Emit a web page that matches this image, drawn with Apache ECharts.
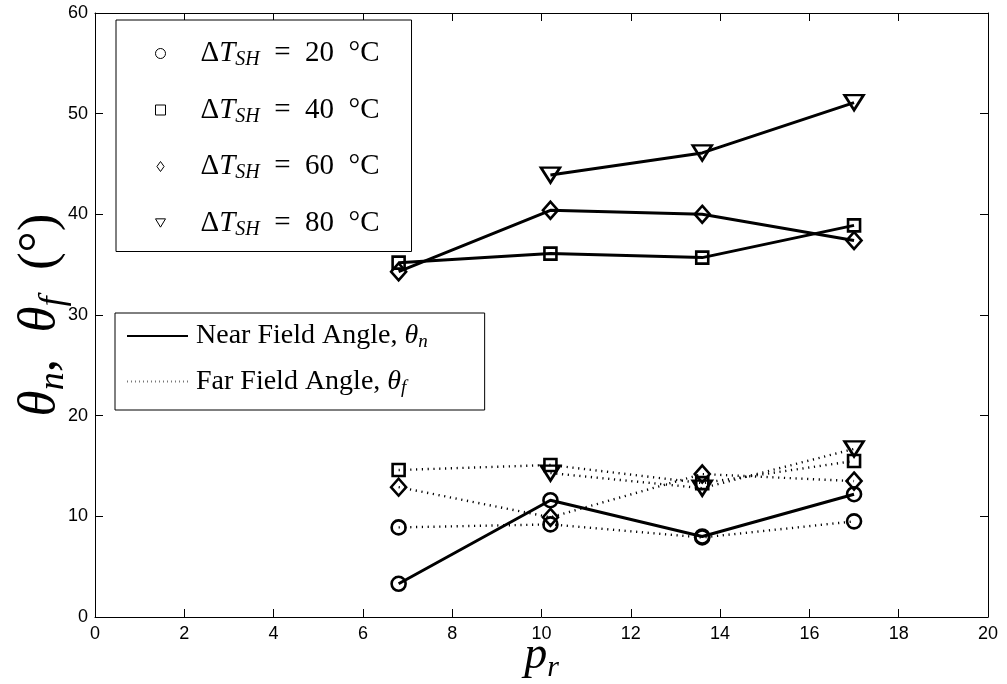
<!DOCTYPE html>
<html>
<head>
<meta charset="utf-8">
<script src="https://cdn.jsdelivr.net/npm/echarts@6/dist/echarts.min.js"></script>
<style>html,body{margin:0;padding:0;background:#fff;}#c{width:1007px;height:684px;}</style>
</head>
<body>
<div id="c"></div>
<script>
// p_r positions
var pr = [6.8, 10.2, 13.6, 17.0];
// superheat levels (°C)
var superheat = ['20', '40', '60', '80'];
// Near field angle theta_n (deg)
var near20 = [3.3, 11.6, 8.0, 12.2];
var near40 = [35.2, 36.1, 35.7, 38.9];
var near60 = [34.3, 40.4, 40.0, 37.4];
var near80 = [null, 43.9, 46.1, 51.1];
// Far field angle theta_f (deg)
var far20 = [8.9, 9.2, 7.9, 9.5];
var far40 = [14.6, 15.1, 13.3, 15.5];
var far60 = [12.9, 9.9, 14.2, 13.5];
var far80 = [null, 14.3, 12.8, 16.7];
// axis ticks
var xTicks = [0, 2, 4, 6, 8, 10, 12, 14, 16, 18, 20];
var yTicks = [0, 10, 20, 30, 40, 50, 60];

function pairs(ys) { return pr.map(function (x, i) { return [x, ys[i]]; }); }

var markers = [
  { symbol: 'circle', size: 14, rotate: 0 },
  { symbol: 'rect', size: 12, rotate: 0 },
  { symbol: 'diamond', size: [15, 17], rotate: 0 },
  { symbol: 'triangle', size: [19, 15], rotate: 180 }
];
var nearSets = [near20, near40, near60, near80];
var farSets = [far20, far40, far60, far80];

var series = [];
nearSets.forEach(function (d, i) {
  series.push({
    name: superheat[i], type: 'line', data: pairs(d),
    symbol: markers[i].symbol, symbolSize: markers[i].size, symbolRotate: markers[i].rotate,
    lineStyle: { color: '#000', width: 3 },
    itemStyle: { color: 'rgba(0,0,0,0)', borderColor: '#000', borderWidth: 2.6 },
    z: 3
  });
});
farSets.forEach(function (d, i) {
  series.push({
    name: 'far' + superheat[i], type: 'line', data: pairs(d),
    symbol: markers[i].symbol, symbolSize: markers[i].size, symbolRotate: markers[i].rotate,
    lineStyle: { color: '#000', width: 2.4, type: [1.2, 4.6] },
    itemStyle: { color: 'rgba(0,0,0,0)', borderColor: '#000', borderWidth: 2.6 },
    z: 2
  });
});
series.push({ name: 'Near', type: 'line', data: [], symbol: 'none', lineStyle: { color: '#000', width: 1 } });
series.push({ name: 'Far', type: 'line', data: [], symbol: 'none', lineStyle: { color: '#777', width: 1, type: [1, 3] } });

var serif = 'Liberation Serif';
var axisCommon = {
  type: 'value',
  axisLine: { show: true, onZero: false, lineStyle: { color: '#000', width: 1 } },
  axisTick: { show: true, inside: true, length: 8, lineStyle: { color: '#000' } },
  splitLine: { show: false }
};

var option = {
  animation: false,
  backgroundColor: '#fff',
  grid: { left: 95, right: 19, top: 13, bottom: 67, containLabel: false, outerBoundsMode: 'none' },
  xAxis: [
    Object.assign({}, axisCommon, {
      min: 0, max: 20, interval: 2, position: 'bottom',
      axisLabel: { show: true, color: '#000', fontFamily: 'Liberation Sans', fontSize: 18, margin: 8,
        formatter: function (v) { return xTicks.indexOf(v) >= 0 ? String(v) : ''; } },
      name: '{p|p}{r|r}', nameLocation: 'middle', nameGap: 12, nameMoveOverlap: false,
      nameTextStyle: { rich: {
        p: { fontFamily: serif, fontStyle: 'italic', fontSize: 46, color: '#000', lineHeight: 48 },
        r: { fontFamily: serif, fontStyle: 'italic', fontSize: 30, color: '#000', padding: [24, 0, 0, 0] }
      } }
    }),
    Object.assign({}, axisCommon, {
      min: 0, max: 20, interval: 2, position: 'top', axisLabel: { show: false }
    })
  ],
  yAxis: [
    Object.assign({}, axisCommon, {
      min: 0, max: 60, interval: 10, position: 'left',
      axisLabel: { show: true, color: '#000', fontFamily: 'Liberation Sans', fontSize: 18, margin: 7,
        formatter: function (v) { return yTicks.indexOf(v) >= 0 ? String(v) : ''; } },
      name: '{t|θ}{s|n}{c|,  }{t|θ}{s|f}{c|  (°)}', nameLocation: 'middle', nameGap: 23, nameRotate: 90,
      nameMoveOverlap: false,
      nameTextStyle: { rich: {
        t: { fontFamily: serif, fontStyle: 'italic', fontSize: 53, color: '#000', lineHeight: 54 },
        s: { fontFamily: serif, fontStyle: 'italic', fontSize: 36, color: '#000', padding: [27, 0, 0, 0] },
        c: { fontFamily: serif, fontSize: 53, color: '#000', lineHeight: 54 }
      } }
    }),
    Object.assign({}, axisCommon, {
      min: 0, max: 60, interval: 10, position: 'right', axisLabel: { show: false }
    })
  ],
  legend: [
    {
      orient: 'vertical', left: 116, top: 20,
      padding: [19, 32, 12, 39],
      itemWidth: 10, itemHeight: 10, itemGap: 25.5,
      backgroundColor: '#fff', borderColor: '#000', borderWidth: 1, borderRadius: 0,
      selectedMode: false,
      itemStyle: { color: 'rgba(0,0,0,0)', borderColor: '#000', borderWidth: 1 },
      data: [
        { name: '20', icon: 'circle' },
        { name: '40', icon: 'path://M0,0L10,0L10,10L0,10Z' },
        { name: '60', icon: 'path://M5,0L10,7L5,14L0,7Z' },
        { name: '80', icon: 'path://M0,0L12,0L6,10Z' }
      ],
      formatter: function (n) { return '{d|Δ}{t|T}{s|SH}{e|  =  ' + n + '  °C}'; },
      textStyle: { color: '#000', padding: [0, 0, 0, 30], rich: {
        d: { fontFamily: serif, fontSize: 29, color: '#000', lineHeight: 30 },
        t: { fontFamily: serif, fontStyle: 'italic', fontSize: 29, color: '#000', lineHeight: 30 },
        s: { fontFamily: serif, fontStyle: 'italic', fontSize: 20, color: '#000', padding: [13, 0, 0, 0] },
        e: { fontFamily: serif, fontSize: 29, color: '#000', lineHeight: 30 }
      } }
    },
    {
      orient: 'vertical', left: 115, top: 313,
      padding: [9, 57, 13, 11],
      itemWidth: 61, itemHeight: 10, itemGap: 16,
      backgroundColor: '#fff', borderColor: '#000', borderWidth: 1, borderRadius: 0,
      selectedMode: false,
      itemStyle: { color: 'rgba(0,0,0,0)', borderColor: 'rgba(0,0,0,0)', borderWidth: 0 },
      data: ['Near', 'Far'],
      formatter: function (n) {
        return n === 'Near' ? '{e|Near Field Angle, }{t|θ}{s|n}' : '{e|Far Field Angle, }{t|θ}{s|f}';
      },
      textStyle: { color: '#000', padding: [0, 0, 0, 3], rich: {
        t: { fontFamily: serif, fontStyle: 'italic', fontSize: 28, color: '#000', lineHeight: 28 },
        s: { fontFamily: serif, fontStyle: 'italic', fontSize: 19, color: '#000', padding: [12, 0, 0, 0] },
        e: { fontFamily: serif, fontSize: 28, color: '#000', lineHeight: 28 }
      } }
    }
  ],
  series: series
};

var chart = echarts.init(document.getElementById('c'), null, { renderer: 'canvas' });
chart.setOption(option);
</script>
</body>
</html>
